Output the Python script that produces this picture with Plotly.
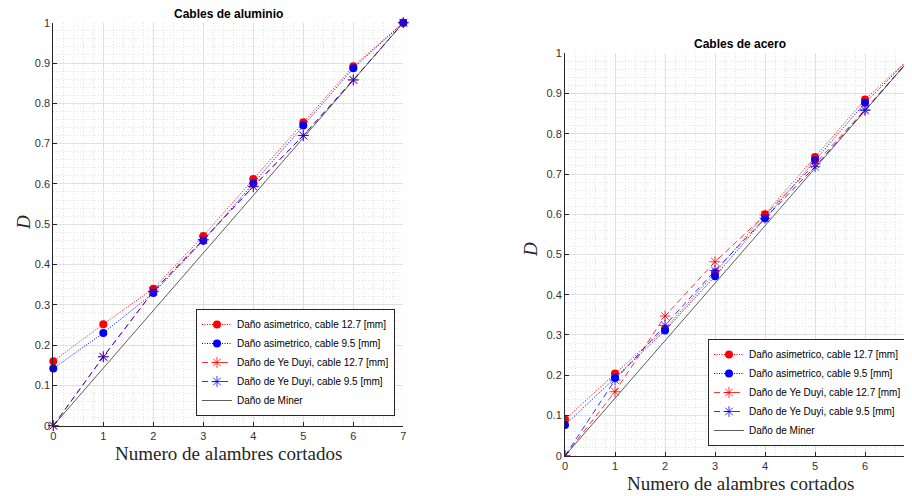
import plotly.graph_objects as go

# ---------------- data ----------------
cortados = [0, 1, 2, 3, 4, 5, 6, 7]

alu_asim_127 = [0.160, 0.252, 0.340, 0.471, 0.612, 0.753, 0.892, 1.0]
alu_asim_95 = [0.142, 0.230, 0.329, 0.459, 0.601, 0.745, 0.887, 1.0]
alu_ye_127 = [0.0, 0.171, 0.334, 0.462, 0.594, 0.720, 0.858, 1.0]
alu_ye_95 = [0.0, 0.171, 0.333, 0.461, 0.593, 0.720, 0.858, 1.0]

ace_asim_127 = [0.090, 0.204, 0.315, 0.455, 0.600, 0.742, 0.885, 1.0]
ace_asim_95 = [0.076, 0.193, 0.311, 0.446, 0.590, 0.734, 0.877, 1.0]
ace_ye_127 = [0.0, 0.159, 0.347, 0.482, 0.598, 0.725, 0.860, 1.0]
ace_ye_95 = [0.0, 0.188, 0.324, 0.460, 0.590, 0.718, 0.858, 1.0]

miner = [0.0, 0.143, 0.286, 0.429, 0.571, 0.714, 0.857, 1.0]

x_ticks = [0, 1, 2, 3, 4, 5, 6, 7]
y_ticks = [0, 0.1, 0.2, 0.3, 0.4, 0.5, 0.6, 0.7, 0.8, 0.9, 1]
y_tick_text = ["0", "0.1", "0.2", "0.3", "0.4", "0.5", "0.6", "0.7", "0.8", "0.9", "1"]

names = [
    "Daño asimetrico, cable 12.7 [mm]",
    "Daño asimetrico, cable 9.5 [mm]",
    "Daño de Ye Duyi, cable 12.7 [mm]",
    "Daño de Ye Duyi, cable 9.5 [mm]",
    "Daño de Miner",
]

RED = "#ff0000"
BLUE = "#0000ff"
AX = "#262626"
DOT = "1px,1.5px"
DASH = "6px,4px"

fig = go.Figure()


def add_panel(series, xa, ya, leg, clip):
    styles = [
        dict(mode="lines+markers", line=dict(color=RED, width=1, dash=DOT),
             marker=dict(symbol="circle", size=8, color=RED)),
        dict(mode="lines+markers", line=dict(color=BLUE, width=1, dash=DOT),
             marker=dict(symbol="circle", size=8, color=BLUE)),
        dict(mode="lines+markers", line=dict(color=RED, width=0.8, dash=DASH),
             marker=dict(symbol="asterisk-open", size=9, color=RED,
                         line=dict(color=RED, width=0.8))),
        dict(mode="lines+markers", line=dict(color=BLUE, width=0.8, dash=DASH),
             marker=dict(symbol="asterisk-open", size=9, color=BLUE,
                         line=dict(color=BLUE, width=0.8))),
        dict(mode="lines", line=dict(color="#333333", width=0.8)),
    ]
    for ys, nm, st in zip(series, names, styles):
        fig.add_trace(go.Scatter(x=cortados, y=ys, name=nm, xaxis=xa, yaxis=ya,
                                 legend=leg, cliponaxis=clip, **st))


add_panel([alu_asim_127, alu_asim_95, alu_ye_127, alu_ye_95, miner], "x", "y", "legend", False)
add_panel([ace_asim_127, ace_asim_95, ace_ye_127, ace_ye_95, miner], "x2", "y2", "legend2", True)

# page body adds an 8px offset; figure covers window pixels 8..912 x 8..496
OFF = 8
W, H = 912 - OFF, 496 - OFF


def px(X):
    return (X - OFF) / W


def py(Y):
    return 1 - (Y - OFF) / H


tickfont = dict(family="Liberation Sans, Arial", size=11, color="#333333")
MAJ = "#e0e0e0"
MIN = "#e2e2e2"


def xaxis(dom, rng, anchor):
    return dict(domain=dom, range=rng, anchor=anchor, tickvals=x_ticks,
                showline=True, linecolor=AX, linewidth=1, mirror=False,
                ticks="inside", ticklen=4, tickcolor=AX, tickfont=tickfont,
                showgrid=True, gridcolor=MAJ, gridwidth=1, zeroline=False,
                minor=dict(dtick=0.2, showgrid=True, gridcolor=MIN,
                           griddash="1px,2px", gridwidth=1, ticks=""))


def yaxis(dom, anchor):
    return dict(domain=dom, range=[0, 1], anchor=anchor, tickvals=y_ticks,
                ticktext=y_tick_text,
                showline=True, linecolor=AX, linewidth=1, mirror=False,
                ticks="inside", ticklen=4, tickcolor=AX, tickfont=tickfont,
                showgrid=True, gridcolor=MAJ, gridwidth=1, zeroline=False,
                minor=dict(dtick=0.02, showgrid=True, gridcolor=MIN,
                           griddash="1px,2px", gridwidth=1, ticks=""))


legfont = dict(family="Liberation Sans, Arial", size=10, color="#000000")
legcommon = dict(bgcolor="white", bordercolor=AX, borderwidth=1, font=legfont,
                 xanchor="right", yanchor="bottom", tracegroupgap=0,
                 xref="paper", yref="paper")

fig.update_layout(
    width=W, height=H,
    margin=dict(l=0, r=0, t=0, b=0, autoexpand=False),
    paper_bgcolor="white", plot_bgcolor="white",
    showlegend=True,
    xaxis=xaxis([px(53.3), px(403.3)], [0, 7], "y"),
    yaxis=yaxis([py(425.7), py(22.7)], "x"),
    xaxis2=xaxis([px(565), 1.0], [0, (912 - 565) / 50], "y2"),
    yaxis2=yaxis([py(455.7), py(53.3)], "x2"),
    legend=dict(x=px(395), y=py(416), **legcommon),
    legend2=dict(x=px(907), y=py(446), **legcommon),
)

title_font = dict(family="Liberation Sans, Arial", size=12, color="#000000")
label_font = dict(family="Liberation Serif, DejaVu Serif, serif", size=19, color=AX)
dfont = dict(family="Liberation Serif, DejaVu Serif, serif", size=19, color=AX)

annots = [
    dict(text="<b>Cables de aluminio</b>", x=px(228), y=py(14), font=title_font),
    dict(text="<b>Cables de acero</b>", x=px(740), y=py(44), font=title_font),
    dict(text="Numero de alambres cortados", x=px(228), y=py(453), font=label_font),
    dict(text="Numero de alambres cortados", x=px(740), y=py(483), font=label_font),
    dict(text="<i>D</i>", x=px(23), y=py(223), font=dfont, textangle=-90),
    dict(text="<i>D</i>", x=px(530), y=py(250), font=dfont, textangle=-90),
]
for a in annots:
    fig.add_annotation(xref="paper", yref="paper", showarrow=False,
                       xanchor="center", yanchor="middle", **a)

fig.write_html("out.html")
